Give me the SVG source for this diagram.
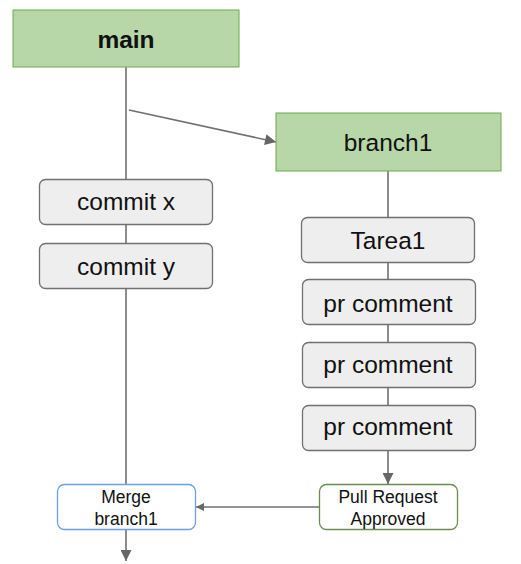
<svg xmlns="http://www.w3.org/2000/svg" width="521" height="564" viewBox="0 0 521 564">
<style>
.ln{stroke:#707070;stroke-width:1.6;fill:none}
.br{fill:#b7d7a8;stroke:#6aa84f;stroke-width:1}
.cm{fill:#eeeeee;stroke:#707070;stroke-width:1.3}
.t{font-family:"Liberation Sans",Arial,sans-serif;font-size:24.5px;fill:#111;text-anchor:middle}
.s{font-family:"Liberation Sans",Arial,sans-serif;font-size:17.5px;fill:#111;text-anchor:middle}
</style>
<defs>
<marker id="ah" viewBox="0 0 10 10" refX="10" refY="5" markerWidth="10" markerHeight="8" markerUnits="userSpaceOnUse" orient="auto"><path d="M0,0L10,5L0,10z" fill="#666"/></marker>
<marker id="ah2" viewBox="0 0 10 10" refX="10" refY="5" markerWidth="12" markerHeight="11" markerUnits="userSpaceOnUse" orient="auto"><path d="M0,0L10,5L0,10z" fill="#666"/></marker>
</defs>
<g id="connectors">
<line class="ln" x1="126" y1="67" x2="126" y2="484"/>
<line class="ln" x1="129" y1="110" x2="276" y2="142" marker-end="url(#ah2)"/>
<line class="ln" x1="388" y1="171" x2="388" y2="405"/>
<line class="ln" x1="388" y1="451" x2="388" y2="484" marker-end="url(#ah2)"/>
<line class="ln" x1="319" y1="507" x2="196" y2="507" marker-end="url(#ah)"/>
<line class="ln" x1="126" y1="530" x2="126" y2="561" marker-end="url(#ah2)"/>
</g>
<g id="main"><rect class="br" x="13" y="10" width="226" height="57"/><text class="t" x="126" y="48" font-weight="bold">main</text></g>
<g id="branch1"><rect class="br" x="276" y="113" width="225" height="58"/><text class="t" x="388" y="151">branch1</text></g>
<g id="commitx"><rect class="cm" x="39.5" y="179.5" width="173" height="45" rx="6"/><text class="t" x="126" y="210">commit x</text></g>
<g id="commity"><rect class="cm" x="39.5" y="243.5" width="173" height="45" rx="6"/><text class="t" x="126" y="275">commit y</text></g>
<g id="tarea1"><rect class="cm" x="301.5" y="217.5" width="173" height="45" rx="6"/><text class="t" x="388" y="249">Tarea1</text></g>
<g id="pr1"><rect class="cm" x="302.5" y="279.5" width="173" height="45" rx="6"/><text class="t" x="388" y="312">pr comment</text></g>
<g id="pr2"><rect class="cm" x="302.5" y="342.5" width="173" height="45" rx="6"/><text class="t" x="388" y="373">pr comment</text></g>
<g id="pr3"><rect class="cm" x="302.5" y="405.5" width="173" height="45" rx="6"/><text class="t" x="388" y="435">pr comment</text></g>
<g id="pra"><rect x="319.5" y="484.5" width="138" height="45" rx="7" fill="#fff" stroke="#6b8a55" stroke-width="1.3"/><text class="s" x="388" y="503">Pull Request</text><text class="s" x="388" y="525">Approved</text></g>
<g id="merge"><rect x="57.5" y="484.5" width="138" height="45" rx="7" fill="#fff" stroke="#6d9eeb" stroke-width="1.3"/><text class="s" x="126" y="503">Merge</text><text class="s" x="126" y="525">branch1</text></g>
</svg>
